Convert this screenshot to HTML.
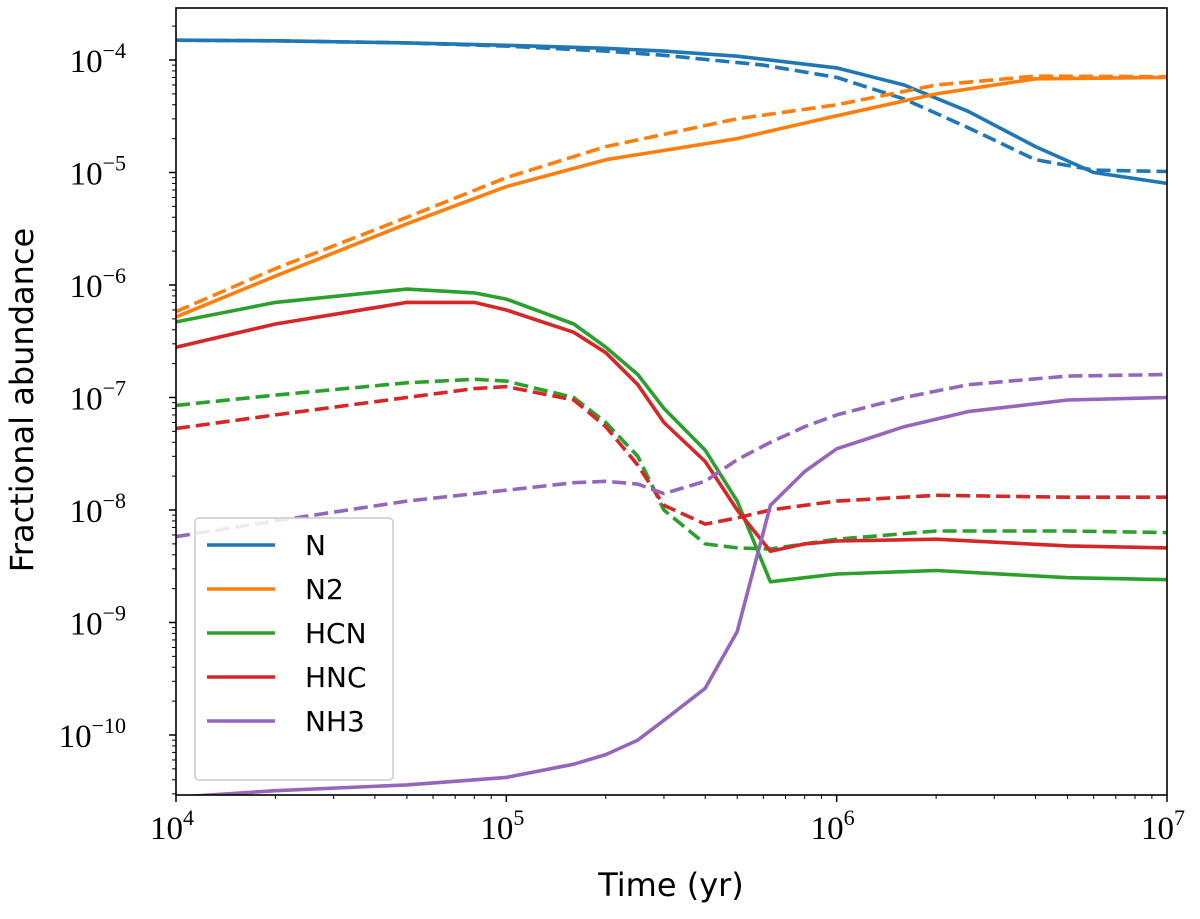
<!DOCTYPE html>
<html><head><meta charset="utf-8"><style>
html,body{margin:0;padding:0;background:#fff;}
svg{display:block;}
</style></head><body>
<svg id="chart" width="1200" height="919" xmlns="http://www.w3.org/2000/svg"></svg>
<script>
// ---- data ----
const nT = [1e4,2e4,5e4,1e5,2e5,3e5,5e5,1e6,1.6e6,2.5e6,4e6,6e6,1e7];
const nSolid = [1.5e-4,1.48e-4,1.42e-4,1.35e-4,1.27e-4,1.2e-4,1.08e-4,8.5e-5,6e-5,3.5e-5,1.7e-5,1e-5,8e-6];
const nDashT = [1e4,2e4,5e4,1e5,2e5,3e5,6e5,1e6,1.6e6,2.5e6,4e6,6e6,1e7];
const nDashed = [1.5e-4,1.48e-4,1.42e-4,1.33e-4,1.2e-4,1.1e-4,9e-5,7e-5,4.5e-5,2.5e-5,1.3e-5,1.05e-5,1.02e-5];
const n2T = [1e4,2e4,5e4,1e5,2e5,5e5,1e6,2e6,4e6,1e7];
const n2Solid = [5.2e-7,1.2e-6,3.5e-6,7.5e-6,1.3e-5,2e-5,3.2e-5,5e-5,6.8e-5,7e-5];
const n2Dashed = [5.8e-7,1.4e-6,4e-6,9e-6,1.7e-5,3e-5,4e-5,6e-5,7.2e-5,7.1e-5];
const hT = [1e4,2e4,5e4,8e4,1e5,1.6e5,2e5,2.5e5,3e5,4e5,5e5,6.3e5,8e5,1e6,2e6,5e6,1e7];
const hcnSolid = [4.7e-7,7e-7,9.2e-7,8.5e-7,7.5e-7,4.5e-7,2.8e-7,1.6e-7,8e-8,3.4e-8,1.2e-8,2.3e-9,2.5e-9,2.7e-9,2.9e-9,2.5e-9,2.4e-9];
const hncSolid = [2.8e-7,4.5e-7,7e-7,7e-7,6e-7,3.8e-7,2.5e-7,1.3e-7,6e-8,2.7e-8,1e-8,4.3e-9,5e-9,5.3e-9,5.5e-9,4.8e-9,4.6e-9];
const hcnDashed = [8.5e-8,1.05e-7,1.35e-7,1.45e-7,1.4e-7,1e-7,6e-8,3e-8,1e-8,5e-9,4.6e-9,4.5e-9,5e-9,5.5e-9,6.5e-9,6.5e-9,6.3e-9];
const hncDashed = [5.3e-8,7e-8,1e-7,1.2e-7,1.25e-7,9.5e-8,5.5e-8,2.5e-8,1.1e-8,7.5e-9,8.5e-9,1e-8,1.1e-8,1.2e-8,1.35e-8,1.3e-8,1.3e-8];
const nh3T = [1e4,2e4,5e4,1e5,1.6e5,2e5,2.5e5,3e5,4e5,5e5,6.3e5,8e5,1e6,1.6e6,2.5e6,5e6,1e7];
const nh3Solid = [2.8e-11,3.2e-11,3.6e-11,4.2e-11,5.5e-11,6.7e-11,9e-11,1.35e-10,2.6e-10,8.3e-10,1.1e-8,2.2e-8,3.5e-8,5.5e-8,7.5e-8,9.5e-8,1e-7];
const nh3Dashed = [5.8e-9,8e-9,1.2e-8,1.5e-8,1.75e-8,1.8e-8,1.7e-8,1.4e-8,1.8e-8,2.8e-8,4e-8,5.5e-8,7e-8,1e-7,1.3e-7,1.55e-7,1.6e-7];
const xTickExp = [4,5,6,7];
const yTickExp = [-4,-5,-6,-7,-8,-9,-10];
const legendLabels = ["N","N2","HCN","HNC","NH3"];

// ---- axes ----
const L=176,R=1167,T=8,B=795;
const x = t => L + (Math.log10(t)-4)/3*(R-L);
const y = v => 60 + (-4 - Math.log10(v))*112.5;
const svg = document.getElementById('chart');
const NS='http://www.w3.org/2000/svg';
function mk(tag, attrs){const e=document.createElementNS(NS,tag);for(const k in attrs)e.setAttribute(k,attrs[k]);return e;}

const clip = mk('clipPath',{id:'pc'}); clip.appendChild(mk('rect',{x:L,y:T,width:R-L,height:B-T})); svg.appendChild(clip);

const series = [
 ['n-solid',nT,nSolid,'#1f77b4',false],['n-dashed',nDashT,nDashed,'#1f77b4',true],
 ['n2-solid',n2T,n2Solid,'#ff7f0e',false],['n2-dashed',n2T,n2Dashed,'#ff7f0e',true],
 ['hcn-solid',hT,hcnSolid,'#2ca02c',false],['hcn-dashed',hT,hcnDashed,'#2ca02c',true],
 ['hnc-solid',hT,hncSolid,'#d62728',false],['hnc-dashed',hT,hncDashed,'#d62728',true],
 ['nh3-solid',nh3T,nh3Solid,'#9467bd',false],['nh3-dashed',nh3T,nh3Dashed,'#9467bd',true]
];
for(const [nm,ts,vs,c,d] of series){
  const p = mk('polyline',{points:ts.map((t,i)=>x(t).toFixed(1)+','+y(vs[i]).toFixed(1)).join(' '),fill:'none',stroke:c,'stroke-width':3.6,'clip-path':'url(#pc)','stroke-linejoin':'round'});
  if(d) p.setAttribute('stroke-dasharray','14 6');
  
  
  svg.appendChild(p);
}

// frame
const fr = mk('rect',{x:L,y:T,width:R-L,height:B-T,fill:'none',stroke:'#000','stroke-width':1.6});


svg.appendChild(fr);

const serif='"Liberation Serif", serif', sans='"DejaVu Sans","Liberation Sans",sans-serif';
// x ticks
for(const e of xTickExp){
  const xp=x(Math.pow(10,e));
  svg.appendChild(mk('line',{x1:xp,x2:xp,y1:B,y2:B+7,stroke:'#000','stroke-width':1.5}));
  const t=mk('text',{x:xp-4,y:B+44,'font-family':serif,'font-size':33,'text-anchor':'middle'});
  t.textContent='10';
  const s=mk('tspan',{'font-size':22,dy:-14}); s.textContent=String(e); t.appendChild(s);
  
  
  svg.appendChild(t);
  for(let k=2;k<10&&e<7;k++){const xm=x(k*Math.pow(10,e));svg.appendChild(mk('line',{x1:xm,x2:xm,y1:B,y2:B+4,stroke:'#000','stroke-width':1}));}
}
// y ticks
for(const e of yTickExp){
  const yp=y(Math.pow(10,e));
  svg.appendChild(mk('line',{x1:L-7,x2:L,y1:yp,y2:yp,stroke:'#000','stroke-width':1.5}));
  const t=mk('text',{x:L-50,y:yp+12,'font-family':serif,'font-size':33,'text-anchor':'end'});
  t.textContent='10';
  const s=mk('tspan',{'font-size':22,dy:-14}); s.textContent='\u2212'+String(-e); t.appendChild(s);
  
  
  svg.appendChild(t);
}
for(let e=-11;e<=-4;e++)for(let k=2;k<10;k++){const ym=y(k*Math.pow(10,e));if(ym>T&&ym<B)svg.appendChild(mk('line',{x1:L-4,x2:L,y1:ym,y2:ym,stroke:'#000','stroke-width':1}));}

// axis titles
const xt=mk('text',{x:671,y:896,'font-family':sans,'font-size':32,'text-anchor':'middle'});xt.textContent='Time (yr)';


svg.appendChild(xt);
const yt=mk('text',{x:0,y:0,'font-family':sans,'font-size':32,'text-anchor':'middle',transform:'translate(33,400) rotate(-90)'});yt.textContent='Fractional abundance';


svg.appendChild(yt);

// legend
const lg=mk('rect',{x:195,y:518,width:198,height:262,rx:4,fill:'#fff','fill-opacity':0.85,stroke:'#ccc','stroke-width':1.5});


svg.appendChild(lg);
const lcols=['#1f77b4','#ff7f0e','#2ca02c','#d62728','#9467bd'];
legendLabels.forEach((lab,i)=>{
  const yy=545+i*44;
  const ln=mk('line',{x1:207,x2:275,y1:yy,y2:yy,stroke:lcols[i],'stroke-width':3.6});
  
  
  svg.appendChild(ln);
  const tx=mk('text',{x:305,y:yy+10,'font-family':sans,'font-size':28});tx.textContent=lab;
  
  
  svg.appendChild(tx);
});
</script>
</body></html>
